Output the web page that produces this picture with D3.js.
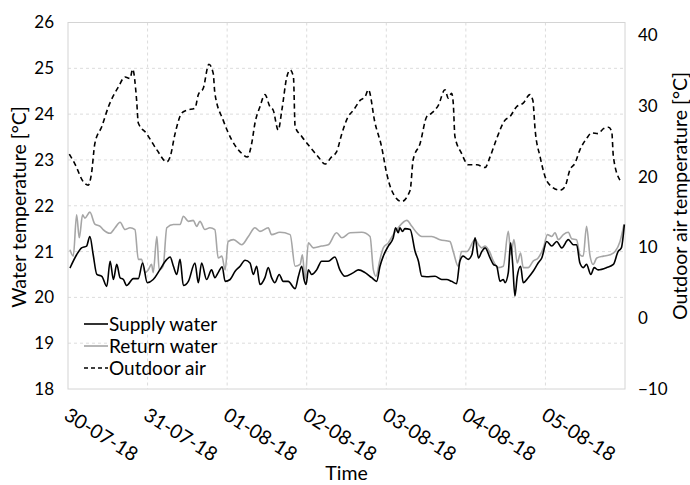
<!DOCTYPE html>
<html>
<head>
<meta charset="utf-8">
<script src="https://cdn.jsdelivr.net/npm/d3@7"></script>
<style>
  html, body { margin: 0; padding: 0; background: #fff; }
  svg { display: block; font-family: Lato, "Open Sans", sans-serif; }
</style>
</head>
<body>
<svg id="chart" width="690" height="485"></svg>
<script>
// Hourly readings, 30 July – 5 August 2018, as [hours since 30-07-18 00:00, °C]
const supplyWater = [
  [0.6,20.64],[2.6,20.93],[4.1,21.08],[5.6,21.12],[6.6,21.33],[7.6,20.93],[8.7,20.5],[10.2,20.46],
  [11.7,20.24],[12.7,20.79],[13.7,20.39],[14.7,20.72],[15.7,20.43],[16.7,20.39],[17.7,20.26],[19.7,20.41],
  [21.2,20.41],[22.5,20.75],[23.9,20.32],[25.7,20.39],[27.7,20.6],[29.8,20.83],[30.8,20.88],[31.8,20.68],
  [32.8,20.5],[33.8,20.83],[34.8,20.26],[36.3,20.35],[38.3,20.75],[39.3,20.32],[40.3,20.75],[41.8,20.39],
  [43.3,20.6],[44.3,20.43],[45.3,20.54],[46.5,20.67],[47.4,20.35],[48.9,20.39],[50.4,20.57],[51.9,20.68],
  [53.4,20.81],[54.9,20.75],[55.9,20.5],[56.9,20.68],[57.9,20.28],[59.4,20.43],[60.4,20.65],[61.4,20.43],
  [62.4,20.32],[63.7,20.5],[64.9,20.35],[66.4,20.35],[68.5,20.19],[69.5,20.46],[70.5,20.68],[71.2,20.39],
  [71.8,20.28],[72.5,20.6],[73.5,20.5],[75.0,20.6],[76.5,20.79],[78.5,20.79],[80.5,20.88],[82.0,20.6],
  [83.5,20.46],[86.1,20.54],[87.6,20.6],[89.6,20.54],[91.6,20.43],[93.1,20.35],[94.1,20.68],[95.1,20.9],
  [96.6,21.12],[98.1,21.3],[98.8,21.52],[99.6,21.41],[100.1,21.52],[100.9,21.44],[101.6,21.5],[103.2,21.48],
  [104.7,21.0],[105.7,20.79],[106.7,20.46],[108.2,20.45],[110.7,20.46],[112.7,20.39],[114.2,20.39],[115.7,20.35],
  [117.2,20.3],[118.2,20.79],[119.2,20.9],[120.7,20.83],[121.8,20.93],[122.8,21.3],[123.8,20.86],[124.8,21.0],
  [125.8,21.08],[127.3,20.86],[128.3,20.72],[129.3,20.68],[130.3,20.35],[131.3,20.39],[131.8,20.32],[132.8,20.54],
  [133.5,21.19],[134.1,20.75],[134.8,20.03],[135.5,20.46],[136.5,20.68],[137.3,20.32],[138.8,20.43],[140.3,20.57],
  [141.8,20.75],[142.9,20.86],[144.4,21.22],[145.9,21.12],[147.4,21.22],[148.9,21.08],[150.9,21.26],[152.4,21.15],
  [153.4,21.15],[154.4,20.75],[155.4,20.65],[156.4,20.72],[157.7,20.5],[158.7,20.65],[159.9,20.6],[162.5,20.65],
  [164.5,20.72],[165.9,21.0],[166.9,21.08],[167.8,21.59]
];

const returnWater = [
  [0.6,21.04],[1.6,20.9],[2.6,21.8],[3.4,21.3],[4.4,21.8],[5.1,21.73],[6.6,21.86],[8.1,21.6],
  [9.7,21.55],[10.6,21.48],[12.7,21.4],[14.2,21.52],[15.7,21.64],[17.2,21.48],[18.7,21.52],[20.2,21.48],
  [21.2,20.83],[22.2,20.83],[23.2,20.54],[24.2,20.6],[25.2,20.72],[25.7,20.54],[26.8,21.33],[27.5,20.6],
  [28.7,20.68],[29.8,21.52],[31.8,21.59],[33.8,21.59],[34.8,21.77],[36.3,21.66],[37.8,21.68],[38.8,21.55],
  [39.8,21.66],[41.3,21.48],[42.8,21.52],[44.3,21.48],[45.3,20.86],[46.4,20.9],[47.4,20.6],[48.3,21.22],
  [49.9,21.26],[52.4,21.15],[54.4,21.33],[56.4,21.52],[57.9,21.44],[60.4,21.52],[61.4,21.37],[63.9,21.42],
  [67.0,21.37],[68.5,20.68],[70.0,20.72],[70.7,20.93],[71.5,20.39],[72.5,21.19],[74.0,21.08],[76.5,21.12],
  [78.5,21.15],[81.0,21.41],[82.6,21.3],[85.1,21.41],[88.6,21.42],[91.1,21.33],[92.1,20.6],[92.9,20.46],
  [94.1,20.83],[95.1,21.08],[96.6,21.19],[98.1,21.37],[99.6,21.52],[102.2,21.68],[103.7,21.55],[105.2,21.41],
  [106.7,21.33],[109.7,21.33],[112.2,21.26],[115.2,21.22],[116.2,21.0],[117.7,20.68],[118.7,21.0],[120.3,21.0],
  [122.8,21.26],[123.8,21.15],[124.8,21.08],[125.8,21.12],[127.3,20.97],[128.3,20.79],[129.8,20.65],[131.3,20.68],
  [132.8,21.44],[133.6,20.93],[134.5,21.26],[135.5,20.75],[136.5,20.97],[137.3,20.65],[138.8,20.65],[140.3,20.79],
  [141.8,20.86],[143.4,21.08],[144.6,21.37],[145.9,21.33],[146.9,21.41],[147.9,21.26],[149.4,21.37],[150.9,21.42],
  [151.9,21.28],[153.4,21.26],[154.4,20.93],[155.4,20.9],[156.4,21.55],[157.4,20.93],[158.4,20.72],[159.5,20.86],
  [161.5,20.9],[163.5,20.93],[165.0,21.0],[166.5,21.22],[167.7,21.59]
];

const outdoorAir = [
  [0.4,23.2],[2.1,21.8],[4.6,19.3],[6.1,18.8],[7.1,20.5],[8.1,24.7],[10.2,27.1],[12.2,29.9],
  [15.2,32.7],[17.2,34.1],[18.7,33.9],[19.5,35.2],[20.7,30.8],[21.2,27.6],[23.7,26.1],[26.8,23.8],
  [29.8,22.1],[30.8,22.8],[32.3,26.1],[34.3,29.0],[35.8,29.4],[38.3,29.7],[39.3,31.6],[40.8,32.5],
  [42.5,35.9],[43.8,34.6],[44.3,31.8],[46.8,28.0],[49.4,25.2],[52.4,23.3],[54.1,22.8],[55.4,24.7],
  [56.4,27.6],[57.9,29.9],[59.4,31.6],[60.9,29.9],[61.9,29.4],[63.4,26.6],[64.5,29.4],[66.0,34.1],
  [67.0,35.1],[68.0,34.1],[68.5,27.1],[70.5,25.7],[73.0,24.2],[75.5,22.8],[77.5,21.8],[79.5,22.8],
  [81.0,23.5],[82.6,26.1],[84.5,28.5],[86.1,29.4],[88.1,30.8],[89.6,31.3],[90.6,32.3],[92.6,27.6],
  [94.6,24.2],[96.1,20.5],[97.6,18.1],[100.6,16.5],[103.2,18.1],[104.1,22.4],[106.2,24.7],[108.2,28.5],
  [109.7,29.0],[111.7,30.1],[113.7,32.3],[114.7,31.1],[115.7,31.8],[116.2,30.4],[116.7,25.7],[118.7,23.3],
  [120.7,21.7],[123.3,21.7],[125.8,21.3],[127.3,22.8],[129.3,25.4],[131.8,28.0],[133.3,28.5],[135.3,29.9],
  [137.3,30.4],[139.3,31.6],[140.2,30.8],[140.9,26.6],[142.4,22.8],[143.9,20.0],[145.9,18.6],[148.4,18.1],
  [149.9,18.6],[151.4,21.0],[152.9,21.9],[154.4,23.8],[156.4,25.4],[158.0,26.2],[159.9,26.1],[161.5,26.8],
  [163.0,27.0],[164.0,26.4],[164.5,22.8],[166.5,19.5]
];

const dayLabels = ["30-07-18", "31-07-18", "01-08-18", "02-08-18", "03-08-18", "04-08-18", "05-08-18"];
const waterTicks = [18, 19, 20, 21, 22, 23, 24, 25, 26];
const airTicks = [-10, 0, 10, 20, 30, 40];
const seriesNames = ["Supply water", "Return water", "Outdoor air"];

const svg = d3.select("#chart");
const margin = { top: 22.5, right: 65, bottom: 96, left: 68 };
const width = 690 - margin.left - margin.right;
const height = 485 - margin.top - margin.bottom;

const start = new Date(2018, 6, 30);
const hourToDate = h => new Date(start.getTime() + h * 3600e3);
const dayTicks = dayLabels.map((_, i) => d3.timeDay.offset(start, i));

const x = d3.scaleTime().domain([start, d3.timeDay.offset(start, 7)]).range([0, width]);
const yWater = d3.scaleLinear().domain([18, 26]).range([height, 0]);
const yAir = d3.scaleLinear().domain([-10, 41.8]).range([height, 0]);

const g = svg.append("g").attr("transform", `translate(${margin.left},${margin.top})`);

// dashed grid
g.append("g").selectAll("line").data(waterTicks.slice(1, -1)).join("line")
  .attr("x1", 0).attr("x2", width)
  .attr("y1", d => yWater(d)).attr("y2", d => yWater(d))
  .attr("stroke", "#dcdcdc").attr("stroke-dasharray", "3,3");
g.append("g").selectAll("line").data(dayTicks.slice(1)).join("line")
  .attr("x1", d => x(d)).attr("x2", d => x(d))
  .attr("y1", 0).attr("y2", height)
  .attr("stroke", "#dcdcdc").attr("stroke-dasharray", "3,3");

// plot frame
g.append("rect").attr("x", 0).attr("y", 0).attr("width", width).attr("height", height)
  .attr("fill", "none").attr("stroke", "#d4d4d4").attr("stroke-width", 1);

// axes
const axisLeft = g.append("g")
  .call(d3.axisLeft(yWater).tickValues(waterTicks).tickSize(0).tickPadding(14).tickFormat(d3.format("d")));
const axisRight = g.append("g").attr("transform", `translate(${width},0)`)
  .call(d3.axisRight(yAir).tickValues(airTicks).tickSize(0).tickPadding(13).tickFormat(d3.format("d")));
const axisBottom = g.append("g").attr("transform", `translate(0,${height})`)
  .call(d3.axisBottom(x).tickValues(dayTicks).tickSize(0).tickFormat((d, i) => dayLabels[i]));

[axisLeft, axisRight, axisBottom].forEach(a => {
  a.select(".domain").remove();
  a.selectAll("text").attr("fill", "#000").style("font-size", "17px").style("font-family", "Lato, sans-serif");
});
axisBottom.selectAll("text")
  .attr("x", 0).attr("y", 0).attr("dy", "0.75em")
  .attr("text-anchor", "start")
  .attr("transform", "translate(2,17) rotate(32)")
  .style("font-size", "19.5px");

// series
const line = yScale => d3.line()
  .x(d => x(hourToDate(d[0])))
  .y(d => yScale(d[1]))
  .curve(d3.curveMonotoneX);

g.append("path").datum(returnWater)
  .attr("fill", "none").attr("stroke", "#a6a6a6").attr("stroke-width", 1.6)
  .attr("d", line(yWater));
g.append("path").datum(supplyWater)
  .attr("fill", "none").attr("stroke", "#000").attr("stroke-width", 1.6)
  .attr("d", line(yWater));
g.append("path").datum(outdoorAir)
  .attr("fill", "none").attr("stroke", "#000").attr("stroke-width", 1.6)
  .attr("stroke-dasharray", "5,3.5")
  .attr("d", line(yAir));

// axis titles
svg.append("text")
  .attr("transform", `translate(${margin.left + width / 2},480)`)
  .attr("text-anchor", "middle").style("font-size", "19.5px").text("Time");
svg.append("text")
  .attr("transform", `translate(26,207) rotate(-90)`)
  .attr("text-anchor", "middle").style("font-size", "19.5px").text("Water temperature [°C]");
svg.append("text")
  .attr("transform", `translate(687,196) rotate(-90)`)
  .attr("text-anchor", "middle").style("font-size", "19.5px").text("Outdoor air temperature  [°C]");

// legend
const legendStyles = [
  { stroke: "#000", dash: null },
  { stroke: "#a6a6a6", dash: null },
  { stroke: "#000", dash: "4,3" }
];
const legend = svg.append("g").attr("transform", "translate(84,324)");
const items = legend.selectAll("g").data(seriesNames).join("g")
  .attr("transform", (d, i) => `translate(0,${i * 22})`);
items.append("line")
  .attr("x1", 0).attr("x2", 24).attr("y1", 0).attr("y2", 0)
  .attr("stroke", (d, i) => legendStyles[i].stroke)
  .attr("stroke-width", 1.6)
  .attr("stroke-dasharray", (d, i) => legendStyles[i].dash);
items.append("text")
  .attr("x", 25).attr("y", 0).attr("dy", "0.35em")
  .style("font-size", "19px").text(d => d);
</script>
</body>
</html>
